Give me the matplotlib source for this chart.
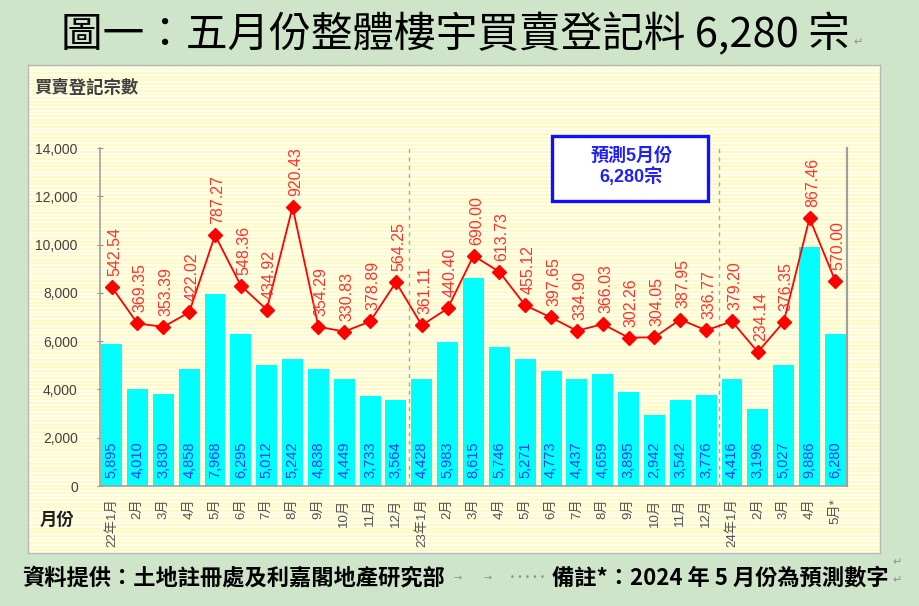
import matplotlib
matplotlib.use("Agg")
import matplotlib.pyplot as plt
import numpy as np
from matplotlib.patches import Rectangle

plt.rcParams['font.family'] = ['Liberation Sans', 'Noto Sans CJK TC', 'DejaVu Sans']

months = ["22年1月", "2月", "3月", "4月", "5月", "6月", "7月", "8月", "9月", "10月", "11月", "12月",
          "23年1月", "2月", "3月", "4月", "5月", "6月", "7月", "8月", "9月", "10月", "11月", "12月",
          "24年1月", "2月", "3月", "4月", "5月*"]
registrations = [5895, 4010, 3830, 4858, 7968, 6295, 5012, 5242, 4838, 4449, 3733, 3564,
                 4428, 5983, 8615, 5746, 5271, 4773, 4437, 4659, 3895, 2942, 3542, 3776,
                 4416, 3196, 5027, 9886, 6280]
line_values = [542.54, 369.35, 353.39, 422.02, 787.27, 548.36, 434.92, 920.43, 354.29, 330.83, 378.89, 564.25,
               361.11, 440.40, 690.00, 613.73, 455.12, 397.65, 334.90, 366.03, 302.26, 304.05, 387.95, 336.77,
               379.20, 234.14, 376.35, 867.46, 570.00]
year_breaks = [11.5, 23.5]
yticks = [0, 2000, 4000, 6000, 8000, 10000, 12000, 14000]

W, H = 920, 606
fig = plt.figure(figsize=(W / 100, H / 100), dpi=100)
fig.patch.set_facecolor('#cfe5ca')

def fx(px):
    return px / W

def fy(py):
    return 1 - py / H

# striped chart background
box = [fx(28), fy(553), fx(880) - fx(28), fy(65) - fy(553)]
bg = fig.add_axes(box, zorder=0)
n_rows = 272
stripes = np.zeros((n_rows, 1, 3))
c1 = np.array([255, 250, 196]) / 255
c2 = np.array([255, 255, 240]) / 255
for r in range(n_rows):
    stripes[r, 0] = c1 if (r % 2 == 0) else c2
bg.imshow(stripes, aspect='auto', interpolation='nearest', extent=[0, 1, 0, 1])
bg.set_xticks([]); bg.set_yticks([])
for s in bg.spines.values():
    s.set_color('#b8b8b8'); s.set_linewidth(1.0)

ax = fig.add_axes([fx(100), fy(486), fx(847) - fx(100), fy(148) - fy(486)], zorder=2)
ax.patch.set_alpha(0)
x = np.arange(len(months))
ax.bar(x, registrations, width=0.81, color='#00ffff', zorder=2)
ax.set_xlim(-0.45, len(months) - 0.55)
ax.set_ylim(0, 14000)
ax.set_yticks(yticks)
ax.set_yticklabels([f"{v:,}" for v in yticks], fontsize=10, color='#404040')
ax.tick_params(axis='y', direction='inout', length=4, color='#909090', pad=14)
ax.set_xticks(x)
ax.set_xticklabels(months, rotation=90, fontsize=9.5, color='#505050', va='top')
ax.tick_params(axis='x', length=0, pad=9)
ax.spines['top'].set_visible(False)
for side in ['left', 'bottom', 'right']:
    ax.spines[side].set_color('#a0a0a0')
    ax.spines[side].set_linewidth(1.2)
ax.spines['right'].set_linewidth(1.6)
for b in year_breaks:
    ax.axvline(b, color='#a8a8a8', linestyle=(0, (3, 3)), linewidth=1.0, zorder=1)
for xi, v in zip(x, registrations):
    ax.annotate(f"{v:,}", (xi, 0), xytext=(0, 6), textcoords='offset points',
                rotation=90, ha='center', va='bottom', fontsize=10.5, color='#1f3cff', zorder=3)

ax2 = ax.twinx()
ax2.set_ylim(-400, 1200)
ax2.axis('off')
ax2.plot(x, line_values, color='#ff0000', linewidth=1.3, marker='D', markersize=7,
         markerfacecolor='#ff0000', markeredgecolor='#ff0000', zorder=4)
for xi, v in zip(x, line_values):
    ax2.annotate(f"{v:.2f}", (xi, v), xytext=(2, 8), textcoords='offset points',
                 rotation=90, ha='center', va='bottom', fontsize=11.5, color='#ff3030', zorder=5)

# annotation box
fig.patches.append(Rectangle((fx(552), fy(201)), fx(708) - fx(552), fy(136) - fy(201),
                             transform=fig.transFigure, facecolor='white', edgecolor='#1010ff',
                             linewidth=2.4, zorder=6))
fig.text(fx(631), fy(156), "預測5月份", ha='center', va='center', fontsize=13, fontweight='bold',
         color='#2020ff', zorder=7)
fig.text(fx(631), fy(177), "6,280宗", ha='center', va='center', fontsize=13, fontweight='bold',
         color='#2020ff', zorder=7)

# texts
fig.text(fx(455), fy(35), "圖一：五月份整體樓宇買賣登記料 6,280 宗", ha='center', va='center',
         fontsize=30, family=['Noto Sans CJK TC', 'DejaVu Sans'], color='black')
fig.text(fx(853), fy(42), "↵", ha='left', va='center', fontsize=8, color='#909090',
         family=['DejaVu Sans'])
fig.text(fx(34), fy(88), "買賣登記宗數", ha='left', va='center', fontsize=12.5, fontweight='bold',
         color='#404040', family=['Noto Sans CJK TC'])
fig.text(fx(40), fy(520), "月份", ha='left', va='center', fontsize=12.5, fontweight='bold',
         color='#202020', family=['Noto Sans CJK TC'])
fig.text(fx(22), fy(578), "資料提供：土地註冊處及利嘉閣地產研究部", ha='left', va='center',
         fontsize=16, fontweight='bold', color='black', family=['Noto Sans CJK TC'])
fig.text(fx(454), fy(578), "→", ha='left', va='center', fontsize=7, color='#909090',
         family=['DejaVu Sans'])
fig.text(fx(484), fy(578), "→", ha='left', va='center', fontsize=7, color='#909090',
         family=['DejaVu Sans'])
fig.text(fx(510), fy(577), "• • • • •", ha='left', va='center', fontsize=6, color='#909090',
         family=['DejaVu Sans'])
fig.text(fx(889), fy(578), "備註*：2024 年 5 月份為預測數字", ha='right', va='center',
         fontsize=16, fontweight='bold', color='black', family=['Noto Sans CJK TC', 'DejaVu Sans'])
fig.text(fx(892), fy(580), "↵", ha='left', va='center', fontsize=8, color='#909090',
         family=['DejaVu Sans'])
fig.text(fx(892), fy(562), "↵", ha='left', va='center', fontsize=8, color='#909090',
         family=['DejaVu Sans'])

fig.savefig("out.png", dpi=100, facecolor=fig.get_facecolor())
